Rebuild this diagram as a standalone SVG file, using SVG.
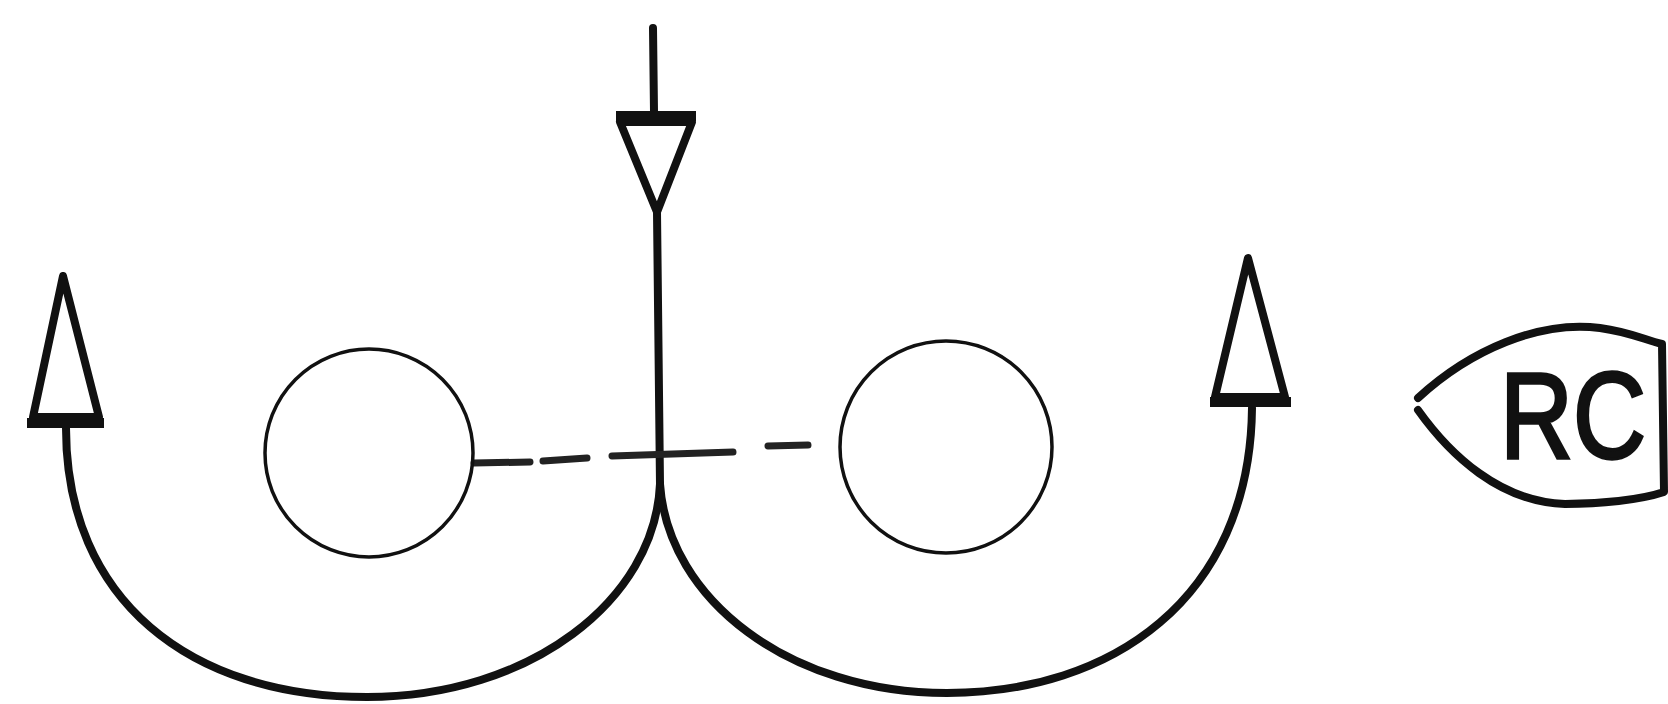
<svg xmlns="http://www.w3.org/2000/svg" width="1668" height="704" viewBox="0 0 1668 704">
<style>
.bg{fill:#ffffff}
.ink{fill:none;stroke:#111;stroke-linecap:round;stroke-linejoin:round}
.heavy{stroke-width:8}
.arrow{fill:#fff;stroke:#111;stroke-width:8;stroke-linejoin:round}
.bar{stroke:#111;stroke-width:10;stroke-linecap:butt}
.circ{fill:none;stroke:#111;stroke-width:3.5}
.dash{stroke:#222;stroke-width:7;stroke-linecap:round}
.lbl{font-family:"Liberation Sans",Arial,sans-serif;font-size:112px;fill:#111;stroke:#111;stroke-width:3}
</style>
<rect class="bg" x="0" y="0" width="1668" height="704"/>
<g id="connectors">
  <path class="ink heavy" d="M 66 428 C 66 600 190 697 367 697 C 530 697 655 600 660 484"/>
  <path class="ink heavy" d="M 660 484 C 668 600 790 693 947 693 C 1110 693 1250 600 1252 408"/>
  <path class="ink heavy" d="M 653 28 L 654 112"/>
  <path class="ink heavy" d="M 657 212 L 660 484"/>
  <g id="dashed-line">
    <line class="dash" x1="474" y1="463" x2="530" y2="462"/>
    <line class="dash" x1="543" y1="461" x2="587" y2="458"/>
    <line class="dash" x1="612" y1="456" x2="733" y2="452"/>
    <line class="dash" x1="768" y1="446" x2="808" y2="445"/>
  </g>
</g>
<g id="top-arrow">
  <polygon class="arrow" points="620,122 692,122 657,212"/>
  <line class="bar" x1="616" y1="116" x2="696" y2="116"/>
</g>
<g id="left-arrow">
  <polygon class="arrow" points="63,276 33,417 99,417"/>
  <line class="bar" x1="27" y1="423" x2="104" y2="423"/>
</g>
<g id="right-arrow">
  <polygon class="arrow" points="1248,258 1215,397 1285,397"/>
  <line class="bar" x1="1210" y1="402" x2="1291" y2="402"/>
</g>
<g id="left-circle">
  <circle class="circ" cx="369" cy="453" r="104"/>
</g>
<g id="right-circle">
  <circle class="circ" cx="946" cy="447" r="106"/>
</g>
<g id="rc-label">
  <path class="ink heavy" d="M 1418 398 C 1470 350 1540 320 1600 328 C 1630 332 1645 340 1662 344 L 1664 492 C 1640 500 1600 504 1565 504 C 1500 502 1450 455 1418 410"/>
  <text class="lbl" transform="translate(1500,458) scale(1,1.1)" x="0" y="0" textLength="146" lengthAdjust="spacingAndGlyphs">RC</text>
</g>
</svg>
